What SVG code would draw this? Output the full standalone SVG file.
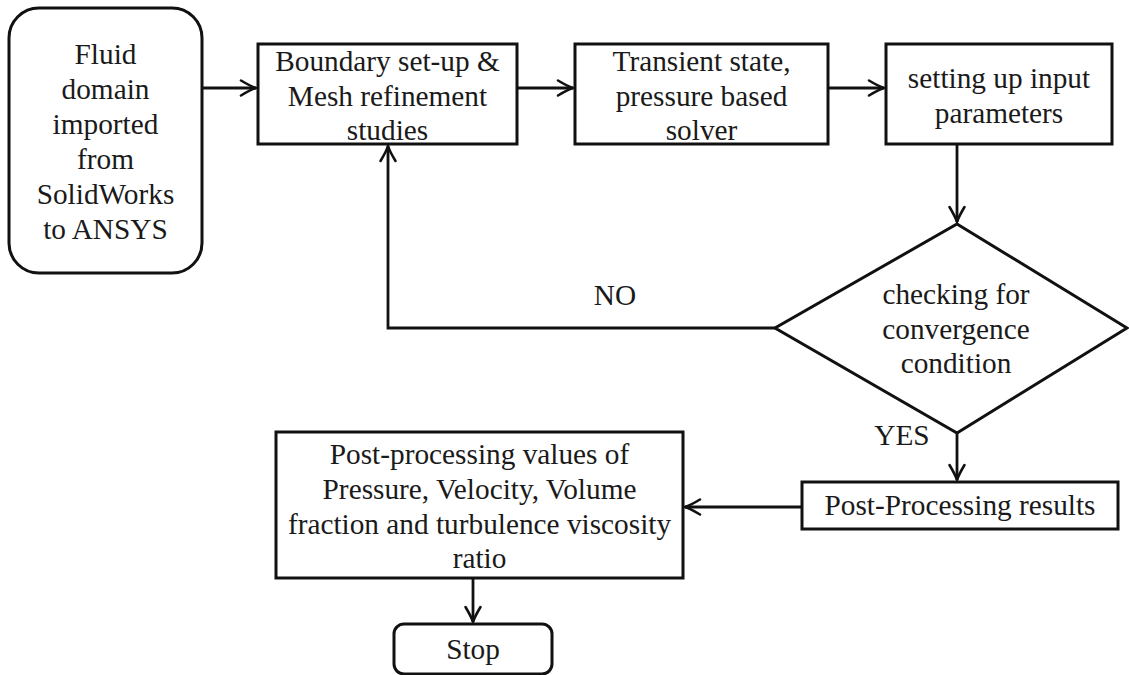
<svg xmlns="http://www.w3.org/2000/svg" width="1129" height="675" viewBox="0 0 1129 675" font-family="Liberation Serif, 'Times New Roman', serif">
  <style>
    .box { fill: #ffffff; stroke: #111111; stroke-width: 3; }
    .lbl { font-size: 29.3px; fill: #1a1a1a; text-anchor: middle; }
    .edge { fill: none; stroke: #111111; stroke-width: 2.8; }
  </style>
  <defs>
    <marker id="arrow" viewBox="-18 -10 20 20" refX="0" refY="0" markerWidth="20" markerHeight="20" markerUnits="userSpaceOnUse" orient="auto">
      <path d="M-15,-7.5 Q-5,-1.5 0,0 Q-5,1.5 -15,7.5" fill="none" stroke="#111111" stroke-width="2.6" stroke-linecap="round" stroke-linejoin="round"/>
    </marker>
  </defs>
  <rect width="1129" height="675" fill="#ffffff"/>

  <!-- connectors -->
  <g id="connectors">
    <path class="edge" d="M202,88 H256" marker-end="url(#arrow)"/>
    <path class="edge" d="M517,88 H573" marker-end="url(#arrow)"/>
    <path class="edge" d="M828,88 H884" marker-end="url(#arrow)"/>
    <path class="edge" d="M957,144 V222" marker-end="url(#arrow)"/>
    <path class="edge" d="M775,328 H388 V146" marker-end="url(#arrow)"/>
    <path class="edge" d="M957,433 V480" marker-end="url(#arrow)"/>
    <path class="edge" d="M802,507 H685" marker-end="url(#arrow)"/>
    <path class="edge" d="M473,578 V622" marker-end="url(#arrow)"/>
    <text class="lbl" x="615" y="305">NO</text>
    <text class="lbl" x="902" y="445">YES</text>
  </g>

  <g id="import">
    <rect class="box" x="9" y="8" width="193" height="265" rx="30" ry="30"/>
    <text class="lbl" x="105.5" y="64">Fluid</text>
    <text class="lbl" x="105.5" y="99">domain</text>
    <text class="lbl" x="105.5" y="134">imported</text>
    <text class="lbl" x="105.5" y="169">from</text>
    <text class="lbl" x="105.5" y="204">SolidWorks</text>
    <text class="lbl" x="105.5" y="239">to ANSYS</text>
  </g>

  <g id="boundary">
    <rect class="box" x="258" y="44" width="259" height="100"/>
    <text class="lbl" x="387.5" y="71">Boundary set-up &amp;</text>
    <text class="lbl" x="387.5" y="105.5">Mesh refinement</text>
    <text class="lbl" x="387.5" y="140">studies</text>
  </g>

  <g id="solver">
    <rect class="box" x="575" y="44" width="253" height="100"/>
    <text class="lbl" x="701.5" y="71">Transient state,</text>
    <text class="lbl" x="701.5" y="105.5">pressure based</text>
    <text class="lbl" x="701.5" y="140">solver</text>
  </g>

  <g id="inputs">
    <rect class="box" x="886" y="44" width="226" height="100"/>
    <text class="lbl" x="999" y="88">setting up input</text>
    <text class="lbl" x="999" y="122.5">parameters</text>
  </g>

  <g id="convergence">
    <polygon class="box" points="957,224 1127,328 957,433 775,328"/>
    <text class="lbl" x="956" y="304">checking for</text>
    <text class="lbl" x="956" y="339">convergence</text>
    <text class="lbl" x="956" y="373">condition</text>
  </g>

  <g id="results">
    <rect class="box" x="802" y="482" width="316" height="47"/>
    <text class="lbl" x="960" y="515">Post-Processing results</text>
  </g>

  <g id="values">
    <rect class="box" x="276" y="432" width="407" height="146"/>
    <text class="lbl" x="479.5" y="464">Post-processing values of</text>
    <text class="lbl" x="479.5" y="499">Pressure, Velocity, Volume</text>
    <text class="lbl" x="479.5" y="534">fraction and turbulence viscosity</text>
    <text class="lbl" x="479.5" y="568">ratio</text>
  </g>

  <g id="stop">
    <rect class="box" x="394" y="624" width="158" height="50" rx="10" ry="10"/>
    <text class="lbl" x="473" y="659">Stop</text>
  </g>
</svg>
